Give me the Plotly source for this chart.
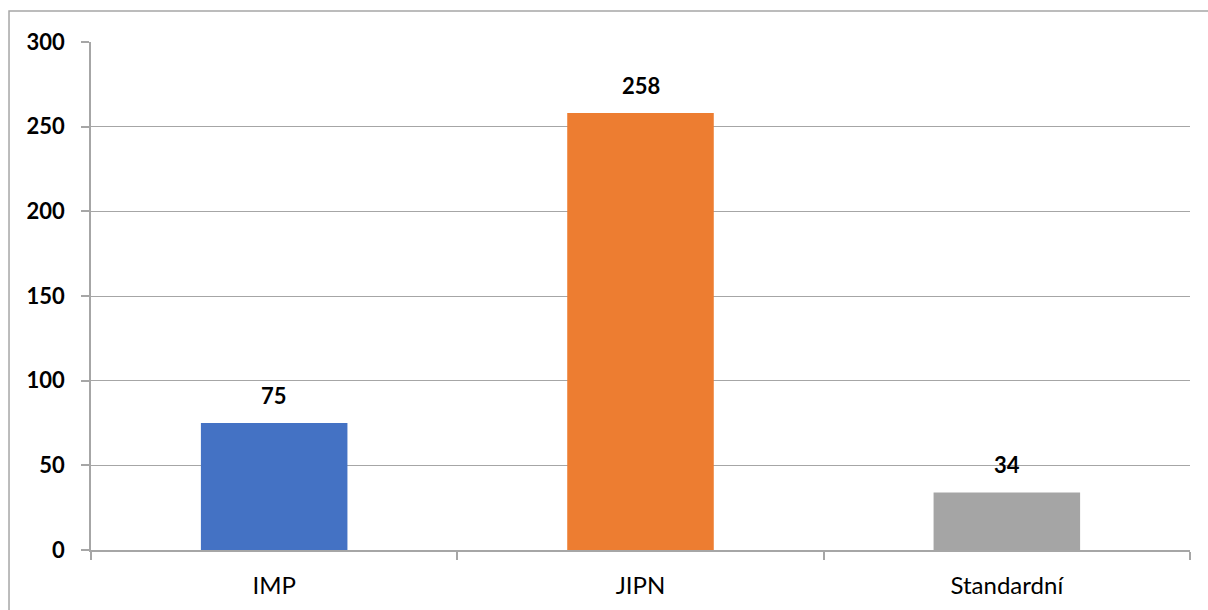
import plotly.graph_objects as go

categories = ["IMP", "JIPN", "Standardní"]
values = [75, 258, 34]
bar_colors = ["#4472C4", "#ED7D31", "#A5A5A5"]
y_ticks = [0, 50, 100, 150, 200, 250, 300]

FONT = "Lato, Open Sans, sans-serif"
GRID = "#a6a6a6"

fig = go.Figure()
fig.add_trace(go.Bar(
    x=categories, y=values, marker=dict(color=bar_colors, line=dict(width=0)),
    width=0.4, showlegend=False, hoverinfo="skip",
))

for c, v in zip(categories, values):
    fig.add_annotation(x=c, y=v, text=f"<b>{v}</b>", showarrow=False,
                       yanchor="bottom", yshift=12,
                       font=dict(family=FONT, size=22, color="#000000"))

# outer chart border
fig.add_shape(type="rect", xref="paper", yref="paper",
              x0=-0.0746, x1=1.05, y0=-0.3, y1=1.061,
              line=dict(color=GRID, width=1.5), fillcolor="rgba(0,0,0,0)", layer="below")

fig.update_layout(
    width=1208, height=610,
    margin=dict(l=91, r=18, t=42, b=60),
    paper_bgcolor="white", plot_bgcolor="white",
    font=dict(family=FONT, color="#000000"),
    xaxis=dict(
        tickson="boundaries", ticks="outside", ticklen=8, tickcolor=GRID, tickwidth=1.5,
        showline=True, linecolor=GRID, linewidth=1.5, showgrid=False,
        tickfont=dict(family=FONT, size=24, color="#000000"),
        ticklabelstandoff=13, range=[-0.5, 2.5],
    ),
    yaxis=dict(
        range=[0, 300], tickvals=y_ticks, ticktext=[f"<b>{t}</b>" for t in y_ticks],
        ticks="outside", ticklen=8, tickcolor=GRID, tickwidth=1.5,
        showline=True, linecolor=GRID, linewidth=1.5,
        showgrid=True, gridcolor=GRID, gridwidth=1.2, zeroline=False,
        tickfont=dict(family=FONT, size=22, color="#000000"),
        ticklabelstandoff=12,
    ),
)

fig.write_html("out.html", config={"displayModeBar": False},
               post_script="document.body.style.margin='0';document.body.style.overflow='hidden';")
